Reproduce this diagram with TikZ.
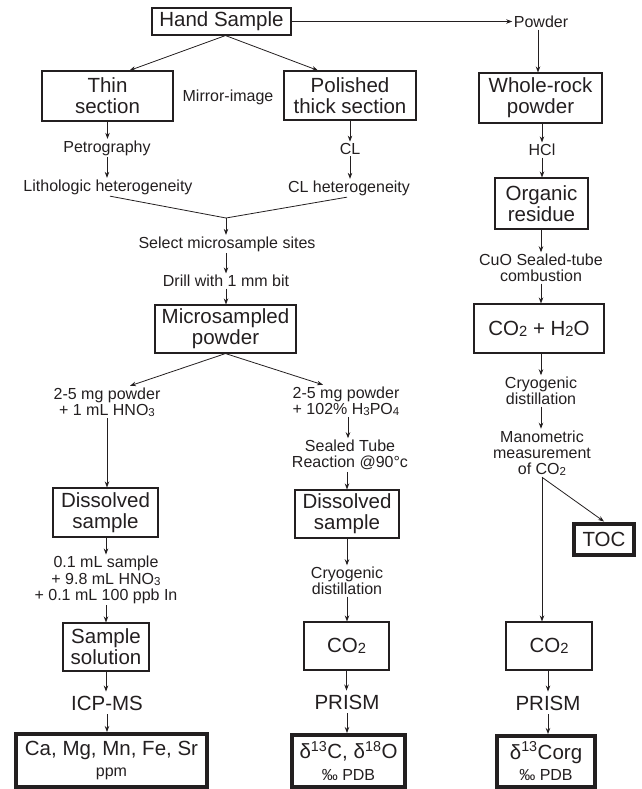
\documentclass[tikz,border=0pt]{standalone}
\usepackage{fontspec}
\setmainfont{Liberation Sans}
\usetikzlibrary{arrows.meta,calc}
\definecolor{ink}{HTML}{231F20}
\newcommand\lowdig[1]{\raisebox{-0.06em}{\scalebox{0.72}{#1}}}
\begin{document}
\begin{tikzpicture}[x=1pt,y=-1pt,
  every node/.style={text=ink},
  box/.style={draw=ink,line width=1.1pt,inner sep=0pt,align=center,font=\fontsize{20.5}{21}\selectfont},
  resbox/.style={draw=ink,line width=4pt,inner sep=0pt,align=center,font=\fontsize{20.5}{21.5}\selectfont},
  lbl/.style={inner sep=1.5pt,align=center,font=\fontsize{16}{16.3}\selectfont},
  big/.style={inner sep=4pt,align=center,font=\fontsize{20.5}{21.5}\selectfont},
  arr/.style={draw=ink,line width=0.8pt,-{Stealth[length=6pt,width=4.5pt]}},
  ln/.style={draw=ink,line width=0.8pt}]
\useasboundingbox (0,0) rectangle (641,789);

% ---------- nodes ----------
\node[box,minimum width=139pt,minimum height=27pt] (hand) at (221.5,21.5) {Hand Sample};
\node[lbl] (powder) at (541,22) {Powder};
\node[box,minimum width=131pt,minimum height=50pt] (thin) at (107.5,96) {Thin\\section};
\node[lbl] (mirror) at (228,97) {Mirror-image};
\node[box,minimum width=132pt,minimum height=49pt] (pol) at (350,95.5) {Polished\\thick section};
\node[box,minimum width=123pt,minimum height=50pt] (whole) at (540.5,98) {Whole-rock\\powder};
\node[lbl] (petro) at (107,148) {Petrography};
\node[lbl] (cl) at (350,149) {CL};
\node[lbl] (hcl) at (542,150) {HCl};
\node[lbl] (litho) at (108,187) {Lithologic heterogeneity};
\node[lbl] (clhet) at (349,188) {CL heterogeneity};
\node[box,minimum width=93pt,minimum height=51pt] (org) at (541.5,203.5) {Organic\\residue};
\coordinate (merge) at (226,218);
\node[lbl] (select) at (227,244) {Select microsample sites};
\node[lbl] (drill) at (226,281) {Drill with 1 mm bit};
\node[lbl] (cuo) at (541,268) {CuO Sealed-tube\\combustion};
\node[box,minimum width=141pt,minimum height=48pt] (micro) at (225.5,329) {Microsampled\\powder};
\node[box,minimum width=130pt,minimum height=49pt] (coh) at (539,328.5) {CO\lowdig{2} + H\lowdig{2}O};
\node[lbl] (cryoR) at (541,391) {Cryogenic\\distillation};
\node[lbl] (powL) at (107,402) {2-5 mg powder\\+ 1 mL HNO\lowdig{3}};
\node[lbl] (powM) at (346,401) {2-5 mg powder\\+ 102\% H\lowdig{3}PO\lowdig{4}};
\node[lbl] (mano) at (542,453) {Manometric\\measurement\\of CO\lowdig{2}};
\node[lbl] (sealed) at (350,455) {Sealed Tube\\Reaction @90°c};
\node[box,minimum width=105pt,minimum height=49pt] (dissL) at (105.5,512.5) {Dissolved\\sample};
\node[box,minimum width=104pt,minimum height=48pt] (dissM) at (347,514) {Dissolved\\sample};
\node[resbox,minimum width=60pt,minimum height=31pt] (toc) at (604,539) {TOC};
\node[lbl] (dil) at (106,580) {0.1 mL sample\\+ 9.8 mL HNO\lowdig{3}\\+ 0.1 mL 100 ppb In};
\node[lbl] (cryoM) at (347,581) {Cryogenic\\distillation};
\node[box,minimum width=86pt,minimum height=48pt] (sol) at (106,647) {Sample\\solution};
\node[box,minimum width=85pt,minimum height=48pt] (co2M) at (346.5,646) {CO\lowdig{2}};
\node[box,minimum width=86pt,minimum height=48pt] (co2R) at (549,646) {CO\lowdig{2}};
\node[big] (icp) at (107,703) {ICP-MS};
\node[big] (prM) at (347,702) {PRISM};
\node[big] (prR) at (548,703) {PRISM};
\node[resbox,minimum width=191pt,minimum height=53pt] (ca) at (111.5,760.5)
  {Ca, Mg, Mn, Fe, Sr\\{\fontsize{16}{21.5}\selectfont ppm}};
\node[resbox,minimum width=113pt,minimum height=52pt] (dA) at (348.5,761)
  {δ\textsuperscript{13}C, δ\textsuperscript{18}O\\{\fontsize{16}{21.5}\selectfont ‰ PDB}};
\node[resbox,minimum width=98pt,minimum height=51pt] (dB) at (546,761.5)
  {δ\textsuperscript{13}Corg\\{\fontsize{16}{21.5}\selectfont ‰ PDB}};

% ---------- connectors ----------
\draw[arr] (hand.east) -- (hand.east -| powder.west);
\draw[arr] ([xshift=4pt]hand.south) -- ([xshift=22pt]thin.north);
\draw[arr] ([xshift=4pt]hand.south) -- ([xshift=-32pt]pol.north);
\draw[arr] (thin.south) -- (thin.south |- petro.north);
\draw[arr] (petro.south) -- (petro.south |- litho.north);
\draw[arr] (pol.south) -- (pol.south |- cl.north);
\draw[arr] (cl.south) -- (cl.south |- clhet.north);
\draw[ln] ([xshift=2pt]litho.south) -- (merge) -- ([xshift=-2pt]clhet.south);
\draw[arr] (merge) -- (merge |- select.north);
\draw[arr] (drill.north |- select.south) -- (drill.north);
\draw[arr] (drill.south) -- (drill.south |- micro.north);
\draw[arr] (micro.south) -- ([xshift=23pt]powL.north);
\draw[arr] (micro.south) -- ([xshift=-23pt]powM.north);
% left column
\draw[arr] (powL.south) -- (powL.south |- dissL.north);
\draw[arr] (dil.north |- dissL.south) -- (dil.north);
\draw[arr] (dil.south) -- (dil.south |- sol.north);
\draw[arr] (sol.south) -- (sol.south |- icp.north);
\draw[arr] (icp.south) -- (icp.south |- ca.north);
% middle column
\draw[arr] ([xshift=2pt]powM.south) -- ([xshift=2pt]powM.south |- sealed.north);
\draw[arr] (dissM.north |- sealed.south) -- (dissM.north);
\draw[arr] (dissM.south) -- (dissM.south |- cryoM.north);
\draw[arr] (cryoM.south) -- (cryoM.south |- co2M.north);
\draw[arr] (co2M.south) -- (co2M.south |- prM.north);
\draw[arr] (prM.south) -- (prM.south |- dA.north);
% right column
\draw[arr] ([xshift=-3pt]powder.south) -- ([xshift=-3pt]powder.south |- whole.north);
\draw[arr] (hcl.north |- whole.south) -- (hcl.north);
\draw[arr] (hcl.south) -- (hcl.south |- org.north);
\draw[arr] (cuo.north |- org.south) -- (cuo.north);
\draw[arr] (cuo.south) -- (cuo.south |- coh.north);
\draw[arr] (cryoR.north |- coh.south) -- (cryoR.north);
\draw[arr] (cryoR.south) -- (cryoR.south |- mano.north);
\draw[arr] (mano.south) -- (mano.south |- co2R.north);
\draw[arr] (mano.south) -- (toc.north);
\draw[arr] (prR.north |- co2R.south) -- (prR.north);
\draw[arr] (prR.south) -- (prR.south |- dB.north);
\end{tikzpicture}
\end{document}
